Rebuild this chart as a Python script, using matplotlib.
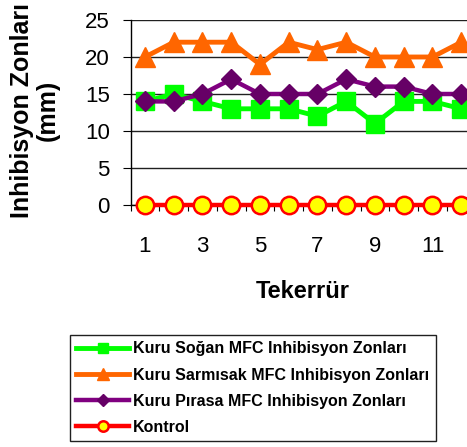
import matplotlib
matplotlib.use('Agg')
import matplotlib.pyplot as plt
import numpy as np

plt.rcParams.update({
    'font.family': ['Liberation Sans', 'DejaVu Sans'],
    'font.size': 16,
})

# Tekerrür başına inhibisyon zonları (mm)
tekerrur = np.arange(1, 13)
sogan = [14, 15, 14, 13, 13, 13, 12, 14, 11, 14, 14, 13]
sarimsak = [20, 22, 22, 22, 19, 22, 21, 22, 20, 20, 20, 22]
pirasa = [14, 14, 15, 17, 15, 15, 15, 17, 16, 16, 15, 15]
kontrol = [0] * 12

labels = ['Kuru Soğan MFC Inhibisyon Zonları',
          'Kuru Sarmısak MFC Inhibisyon Zonları',
          'Kuru Pırasa MFC Inhibisyon Zonları',
          'Kontrol']

W, H = 467, 447
fig = plt.figure(figsize=(W / 100, H / 100), dpi=100)
# plot area runs a little past the right edge of the canvas
ax = fig.add_axes([130.6 / W, 1 - 205 / H, 345 / W, 185 / H])

h1, = ax.plot(tekerrur, sogan, color='#00FF00', lw=3.5, marker='s', ms=13,
              mfc='#00FF00', mec='#00FF00', clip_on=False, zorder=3)
h2, = ax.plot(tekerrur, sarimsak, color='#FF6600', lw=3.5, marker='^', ms=14,
              mfc='#FF6600', mec='#FF6600', clip_on=False, zorder=3)
h3, = ax.plot(tekerrur, pirasa, color='#800080', lw=3.2, marker='D', ms=10,
              mfc='#660066', mec='#660066', clip_on=False, zorder=3)
h4, = ax.plot(tekerrur, kontrol, color='#FF0000', lw=3.2, marker='o', ms=12.5,
              mfc='#FFFF00', mec='#FF0000', mew=1.8, clip_on=False, zorder=4)

ax.set_xlim(0.5, 12.5)
ax.set_ylim(0, 25)
ax.set_yticks(range(0, 26, 5))
ax.set_xticks([1, 3, 5, 7, 9, 11])
ax.set_xticks(np.arange(0.5, 13, 1), minor=True)
ax.tick_params(axis='x', which='major', length=0, pad=22, labelsize=16)
ax.tick_params(axis='x', which='minor', length=4, width=0.8, direction='out')
ax.tick_params(axis='y', length=6, width=0.8, direction='out', pad=9, labelsize=16)
ax.yaxis.grid(True, color='#202020', lw=1)
ax.set_axisbelow(True)
for s in ['top', 'right']:
    ax.spines[s].set_visible(False)
ax.spines['left'].set_linewidth(1)
ax.spines['bottom'].set_linewidth(1)

fig.text(35 / W, 1 - 110 / H, 'Inhibisyon Zonları\n(mm)', rotation=90,
         ha='center', va='center', multialignment='center',
         fontsize=18, fontweight='bold', linespacing=1.1)
fig.text(303 / W, 1 - 291 / H, 'Tekerrür', ha='center', va='center',
         fontsize=17, fontweight='bold')

leg = fig.legend([h1, h2, h3, h4], labels, loc='upper left',
                 bbox_to_anchor=(70 / W, 1 - 335 / H), bbox_transform=fig.transFigure,
                 prop={'size': 11.5, 'weight': 'bold'}, markerscale=0.6,
                 handlelength=3.3, handletextpad=0.25, labelspacing=0.7,
                 borderpad=0.4, borderaxespad=0, fancybox=False,
                 edgecolor='#202020', framealpha=1)
leg.get_frame().set_linewidth(1)

fig.savefig('out.png', dpi=100)
